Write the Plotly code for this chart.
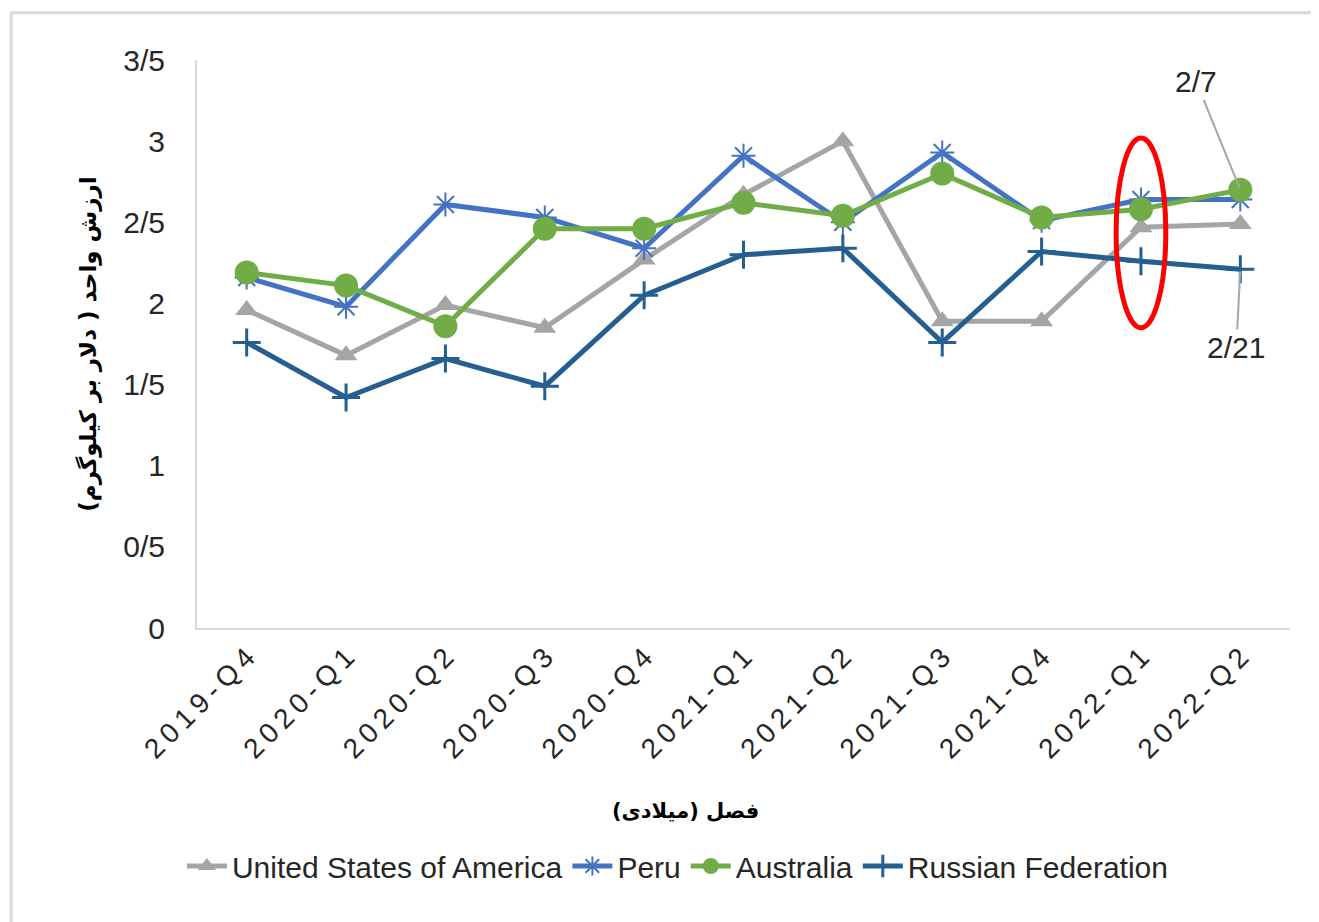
import plotly.graph_objects as go

categories = ["2019-Q4", "2020-Q1", "2020-Q2", "2020-Q3", "2020-Q4", "2021-Q1",
              "2021-Q2", "2021-Q3", "2021-Q4", "2022-Q1", "2022-Q2"]
usa = [1.96, 1.68, 1.99, 1.85, 2.27, 2.67, 3.00, 1.89, 1.89, 2.47, 2.49]
peru = [2.16, 1.98, 2.61, 2.53, 2.34, 2.91, 2.50, 2.93, 2.51, 2.64, 2.64]
australia = [2.19, 2.11, 1.86, 2.46, 2.46, 2.62, 2.54, 2.80, 2.53, 2.58, 2.70]
russia = [1.76, 1.42, 1.66, 1.49, 2.05, 2.30, 2.34, 1.76, 2.32, 2.26, 2.21]

y_tickvals = [0, 0.5, 1, 1.5, 2, 2.5, 3, 3.5]
y_ticktext = ["0", "0/5", "1", "1/5", "2", "2/5", "3", "3/5"]

label_top = "2/7"
label_bottom = "2/21"

FONT = "Liberation Sans, Arial, sans-serif"
TXT = "#262626"

x_idx = list(range(len(categories)))
x_ticktext = ["\u2009".join(c) for c in categories]

fig = go.Figure()
fig.add_trace(go.Scatter(x=x_idx, y=usa, name="United States of America", mode="lines+markers",
                         line=dict(color="#A5A5A5", width=5),
                         marker=dict(symbol="triangle-up", size=20, color="#A5A5A5")))
fig.add_trace(go.Scatter(x=x_idx, y=peru, name="Peru", mode="lines+markers",
                         line=dict(color="#4472C4", width=5),
                         marker=dict(symbol="asterisk-open", size=20, color="#4472C4",
                                     line=dict(color="#4472C4", width=2))))
fig.add_trace(go.Scatter(x=x_idx, y=australia, name="Australia", mode="lines+markers",
                         line=dict(color="#70AD47", width=5),
                         marker=dict(symbol="circle", size=24, color="#70AD47")))
fig.add_trace(go.Scatter(x=x_idx, y=russia, name="Russian Federation", mode="lines+markers",
                         line=dict(color="#255E91", width=5),
                         marker=dict(symbol="cross-thin-open", size=20, color="#255E91",
                                     line=dict(color="#255E91", width=3))))

# red ellipse highlighting 2022-Q1
fig.add_shape(type="circle", xref="x", yref="y", x0=8.75, x1=9.25, y0=1.85, y1=3.02,
              line=dict(color="#FF0000", width=5), fillcolor="rgba(0,0,0,0)")

# outer frame (top and left edges)
fig.add_shape(type="line", xref="paper", yref="paper", x0=-0.171, x1=1.03, y0=1.083, y1=1.083,
              line=dict(color="#D9D9D9", width=3))
fig.add_shape(type="line", xref="paper", yref="paper", x0=-0.170, x1=-0.170, y0=1.083, y1=-0.6,
              line=dict(color="#D9D9D9", width=3))

fig.add_annotation(x=10, y=australia[10], xref="x", yref="y", text=label_top,
                   showarrow=True, arrowhead=0, arrowwidth=2, arrowcolor="#A6A6A6",
                   ax=-44, ay=-108, standoff=2, font=dict(family=FONT, size=30, color=TXT))
fig.add_annotation(x=10, y=russia[10], xref="x", yref="y", text=label_bottom,
                   showarrow=True, arrowhead=0, arrowwidth=2, arrowcolor="#A6A6A6",
                   ax=-4, ay=78, standoff=2, font=dict(family=FONT, size=30, color=TXT))

# x axis title
fig.add_annotation(x=0.4465, y=-0.346, xref="paper", yref="paper", text="<b>فصل (میلادی)</b>",
                   showarrow=False, font=dict(family="DejaVu Sans", size=21, color="#000000"))

fig.update_layout(
    width=1311, height=914,
    margin=dict(l=189, r=29, t=52, b=294),
    paper_bgcolor="white", plot_bgcolor="white",
    font=dict(family=FONT, color=TXT),
    showlegend=True,
    legend=dict(orientation="h", x=0.44, xanchor="center", y=-0.419, yanchor="middle",
                font=dict(family=FONT, size=30, color=TXT), itemwidth=40,
                traceorder="normal"),
    xaxis=dict(range=[-0.5, 10.5], tickvals=x_idx, ticktext=x_ticktext, tickangle=-45,
               tickfont=dict(family=FONT, size=28, color=TXT),
               showline=True, linecolor="#D9D9D9", linewidth=2, showgrid=False,
               ticks="", zeroline=False),
    yaxis=dict(range=[0, 3.5], tickvals=y_tickvals, ticktext=y_ticktext,
               tickfont=dict(family=FONT, size=30, color=TXT),
               showline=True, linecolor="#D9D9D9", linewidth=2, showgrid=False,
               ticks="outside", ticklen=24, tickcolor="rgba(0,0,0,0)", zeroline=False,
               title=dict(text="<b>ارزش واحد ( دلار بر کیلوگرم)</b>",
                          font=dict(family="DejaVu Sans", size=23, color="#000000"),
                          standoff=20)),
)

fig.write_html("out.html")
